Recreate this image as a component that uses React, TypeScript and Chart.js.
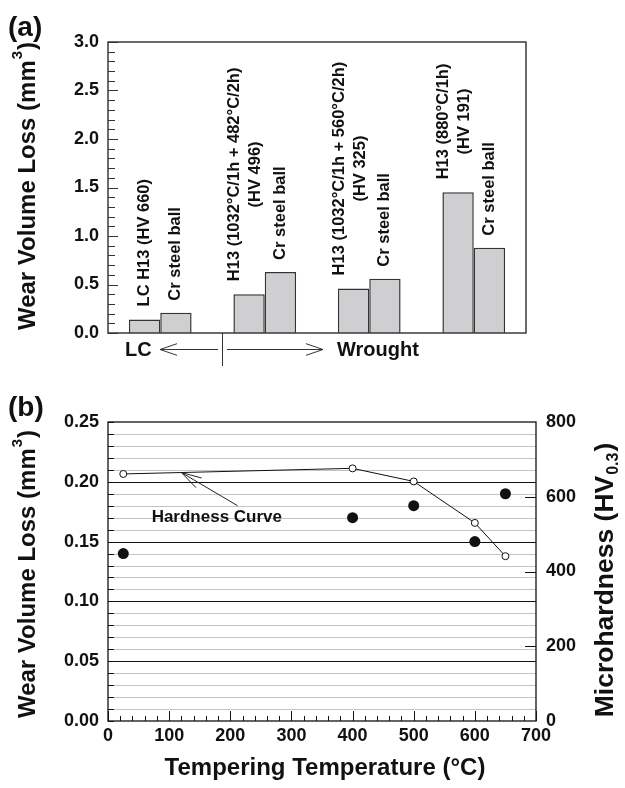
import React, { useEffect, useRef } from 'react';
import { Chart, registerables } from 'chart.js';

Chart.register(...registerables);

// ---------- Data: panel (a) ----------
const categories = ['LC H13', 'H13 482°C', 'H13 560°C', 'H13 880°C'];
const specimenLoss = [0.14, 0.4, 0.46, 1.45];
const ballLoss = [0.21, 0.63, 0.56, 0.88];
const specimenLabels = [
  ['LC H13 (HV 660)'],
  ['H13 (1032°C/1h + 482°C/2h)', '(HV 496)'],
  ['H13 (1032°C/1h + 560°C/2h)', '(HV 325)'],
  ['H13 (880°C/1h)', '(HV 191)'],
];
const ballLabel = 'Cr steel ball';
const lossMaxA = 3.0;
const lossStepA = 0.5;

// ---------- Data: panel (b) ----------
const temperatures = [25, 400, 500, 600, 650];
const wearLoss = [0.14, 0.17, 0.18, 0.15, 0.19];
const hardness = [661, 676, 641, 530, 441];
const tempMax = 700;
const tempStep = 100;
const lossMaxB = 0.25;
const lossStepB = 0.05;
const hardnessMax = 800;
const hardnessStep = 200;

const FONT = '"Liberation Sans", Arial, Helvetica, sans-serif';
const INK = '#111';

function openArrow(ctx: CanvasRenderingContext2D, tx: number, ty: number, fx: number, fy: number, len: number, spread: number) {
  const ang = Math.atan2(fy - ty, fx - tx);
  ctx.beginPath();
  ctx.moveTo(tx + len * Math.cos(ang + spread), ty + len * Math.sin(ang + spread));
  ctx.lineTo(tx, ty);
  ctx.lineTo(tx + len * Math.cos(ang - spread), ty + len * Math.sin(ang - spread));
  ctx.stroke();
}

function drawVerticalTitle(ctx: CanvasRenderingContext2D, cx: number, cy: number, main: string, script: string, tail: string, size: number, sup: boolean) {
  ctx.save();
  ctx.translate(cx, cy);
  ctx.rotate(-Math.PI / 2);
  const big = `bold ${size}px ${FONT}`;
  const small = `bold ${Math.round(size * 0.62)}px ${FONT}`;
  ctx.font = big;
  const w1 = ctx.measureText(main).width;
  const w3 = ctx.measureText(tail).width;
  ctx.font = small;
  const w2 = ctx.measureText(script).width;
  const total = w1 + w2 + w3 + 2;
  let x = -total / 2;
  ctx.fillStyle = INK;
  ctx.textBaseline = 'middle';
  ctx.textAlign = 'left';
  ctx.font = big;
  ctx.fillText(main, x, 0);
  x += w1 + 1;
  ctx.font = small;
  ctx.fillText(script, x, sup ? -size * 0.42 : size * 0.3);
  x += w2 + 1;
  ctx.font = big;
  ctx.fillText(tail, x, 0);
  ctx.restore();
}

const panelAPlugin = {
  id: 'panelA',
  afterDraw(chart: any) {
    const { ctx, chartArea: a, scales } = chart;
    const y = scales.y;
    ctx.save();
    // frame
    ctx.strokeStyle = '#3a3a3a';
    ctx.lineWidth = 1.5;
    ctx.strokeRect(a.left, a.top, a.right - a.left, a.bottom - a.top);
    // inward ticks on left axis
    ctx.lineWidth = 1;
    ctx.strokeStyle = '#333';
    for (let i = 0; i <= Math.round(lossMaxA * 10); i++) {
      const v = i / 10;
      const py = Math.round(y.getPixelForValue(v)) + 0.5;
      const len = i % 5 === 0 ? 10 : 7;
      ctx.beginPath();
      ctx.moveTo(a.left, py);
      ctx.lineTo(a.left + len, py);
      ctx.stroke();
    }
    // labels above bars
    ctx.fillStyle = INK;
    ctx.font = `bold 16.5px ${FONT}`;
    ctx.textBaseline = 'middle';
    const metaS = chart.getDatasetMeta(0);
    const metaB = chart.getDatasetMeta(1);
    const gap = 13;
    metaS.data.forEach((bar: any, i: number) => {
      const lines = specimenLabels[i];
      const w1 = ctx.measureText(lines[0]).width;
      const start = bar.y - gap;
      const centerAlong = start - w1 / 2;
      const lh = 21;
      const cx = bar.x - (lines.length > 1 ? 4 : 0);
      lines.forEach((ln: string, k: number) => {
        const off = (k - (lines.length - 1) / 2) * lh;
        ctx.save();
        ctx.translate(cx + off, centerAlong);
        ctx.rotate(-Math.PI / 2);
        ctx.textAlign = 'center';
        ctx.fillText(ln, 0, 0);
        ctx.restore();
      });
    });
    metaB.data.forEach((bar: any) => {
      ctx.save();
      ctx.translate(bar.x, bar.y - gap + 1);
      ctx.rotate(-Math.PI / 2);
      ctx.textAlign = 'left';
      ctx.fillText(ballLabel, 0, 0);
      ctx.restore();
    });
    // LC / Wrought annotation below axis
    const ay = a.bottom + 16;
    const divX = a.left + 114;
    ctx.strokeStyle = '#333';
    ctx.lineWidth = 1;
    ctx.beginPath();
    ctx.moveTo(divX + 0.5, a.bottom);
    ctx.lineTo(divX + 0.5, a.bottom + 33);
    ctx.stroke();
    ctx.beginPath();
    ctx.moveTo(a.left + 52, ay + 0.5);
    ctx.lineTo(divX - 4, ay + 0.5);
    ctx.stroke();
    openArrow(ctx, a.left + 52, ay + 0.5, divX, ay + 0.5, 18, 0.33);
    ctx.beginPath();
    ctx.moveTo(divX + 5, ay + 0.5);
    ctx.lineTo(a.left + 215, ay + 0.5);
    ctx.stroke();
    openArrow(ctx, a.left + 215, ay + 0.5, divX, ay + 0.5, 18, 0.33);
    ctx.font = `bold 20px ${FONT}`;
    ctx.textAlign = 'left';
    ctx.textBaseline = 'middle';
    ctx.fillText('LC', a.left + 17, ay + 1);
    ctx.fillText('Wrought', a.left + 229, ay + 1);
    // panel label & y title
    ctx.font = `bold 28px ${FONT}`;
    ctx.fillText('(a)', 8, 28);
    ctx.restore();
    drawVerticalTitle(ctx, 28, 186, 'Wear Volume Loss (mm', '3', ')', 24, true);
  },
};

const panelBPlugin = {
  id: 'panelB',
  beforeDatasetsDraw(chart: any) {
    const { ctx, chartArea: a, scales } = chart;
    const y = scales.y;
    ctx.save();
    const n = Math.round(lossMaxB * 100);
    for (let i = 1; i < n; i++) {
      const py = Math.round(y.getPixelForValue(i / 100)) + 0.5;
      const major = i % 5 === 0;
      ctx.strokeStyle = major ? '#111' : '#c4c4c4';
      ctx.lineWidth = major ? 1.1 : 1;
      ctx.beginPath();
      ctx.moveTo(a.left, py);
      ctx.lineTo(a.right, py);
      ctx.stroke();
    }
    ctx.restore();
  },
  afterDraw(chart: any) {
    const { ctx, chartArea: a, scales } = chart;
    const x = scales.x;
    const y = scales.y;
    const y1 = scales.y1;
    ctx.save();
    ctx.strokeStyle = '#111';
    ctx.lineWidth = 1.3;
    ctx.strokeRect(a.left, a.top, a.right - a.left, a.bottom - a.top);
    ctx.lineWidth = 1;
    // left ticks every 0.01
    const n = Math.round(lossMaxB * 100);
    for (let i = 0; i <= n; i++) {
      const py = Math.round(y.getPixelForValue(i / 100)) + 0.5;
      ctx.beginPath();
      ctx.moveTo(a.left, py);
      ctx.lineTo(a.left + 6, py);
      ctx.stroke();
    }
    // x ticks every 20, major every 100
    for (let t = 0; t <= tempMax; t += 20) {
      const px = Math.round(x.getPixelForValue(t)) + 0.5;
      const len = t % tempStep === 0 ? 10 : 5;
      ctx.beginPath();
      ctx.moveTo(px, a.bottom);
      ctx.lineTo(px, a.bottom - len);
      ctx.stroke();
    }
    // right ticks
    for (let h = hardnessStep; h < hardnessMax; h += hardnessStep) {
      const py = Math.round(y1.getPixelForValue(h)) + 0.5;
      ctx.beginPath();
      ctx.moveTo(a.right, py);
      ctx.lineTo(a.right - 11, py);
      ctx.stroke();
    }
    // Hardness curve annotation
    const tipT = 120;
    let tipH = hardness[0];
    for (let i = 0; i < temperatures.length - 1; i++) {
      if (tipT >= temperatures[i] && tipT <= temperatures[i + 1]) {
        const f = (tipT - temperatures[i]) / (temperatures[i + 1] - temperatures[i]);
        tipH = hardness[i] + f * (hardness[i + 1] - hardness[i]);
      }
    }
    const tx = x.getPixelForValue(tipT);
    const ty = y1.getPixelForValue(tipH);
    const fx = x.getPixelForValue(212);
    const fy = y.getPixelForValue(0.18);
    ctx.strokeStyle = '#222';
    ctx.lineWidth = 1;
    ctx.beginPath();
    ctx.moveTo(fx, fy);
    ctx.lineTo(tx, ty);
    ctx.stroke();
    openArrow(ctx, tx, ty, fx, fy, 21, 0.27);
    ctx.fillStyle = INK;
    ctx.font = `bold 17px ${FONT}`;
    ctx.textAlign = 'center';
    ctx.textBaseline = 'middle';
    ctx.fillText('Hardness Curve', x.getPixelForValue(178), y.getPixelForValue(0.17));
    // x title
    ctx.font = `bold 24px ${FONT}`;
    ctx.fillText('Tempering Temperature (°C)', 325, 388);
    // panel label
    ctx.textAlign = 'left';
    ctx.font = `bold 28px ${FONT}`;
    ctx.fillText('(b)', 8, 28);
    ctx.restore();
    drawVerticalTitle(ctx, 28, 194, 'Wear Volume Loss (mm', '3', ')', 24, true);
    drawVerticalTitle(ctx, 606, 200, 'Microhardness (HV', '0.3', ')', 26.5, false);
  },
};

const tickFont = { family: FONT, size: 18, weight: 'bold' as const };
const noGrid = { display: false, drawTicks: false, tickLength: 0 };

export default function App() {
  const refA = useRef<HTMLCanvasElement>(null);
  const refB = useRef<HTMLCanvasElement>(null);

  useEffect(() => {
    const chartA = new Chart(refA.current!, {
      type: 'bar',
      data: {
        labels: categories,
        datasets: [
          { data: specimenLoss, backgroundColor: '#cfcfd2', borderColor: '#333', borderWidth: 1.5, barPercentage: 1, categoryPercentage: 0.6 },
          { data: ballLoss, backgroundColor: '#cfcfd2', borderColor: '#333', borderWidth: 1.5, barPercentage: 1, categoryPercentage: 0.6 },
        ],
      },
      options: {
        animation: false,
        responsive: false,
        devicePixelRatio: 1,
        layout: { padding: { left: 0, top: 42, right: 99, bottom: 0 } },
        plugins: { legend: { display: false }, tooltip: { enabled: false } },
        scales: {
          x: {
            grid: noGrid,
            border: { display: false },
            ticks: { display: false },
            afterFit: (s: any) => { s.height = 47; },
          },
          y: {
            min: 0,
            max: lossMaxA,
            grid: noGrid,
            border: { display: false },
            ticks: { stepSize: lossStepA, padding: 9, color: INK, font: tickFont, callback: (v: any) => Number(v).toFixed(1) },
            afterFit: (s: any) => { s.width = 108; },
          },
        },
      },
      plugins: [panelAPlugin],
    } as any);

    const chartB = new Chart(refB.current!, {
      type: 'scatter',
      data: {
        datasets: [
          {
            data: temperatures.map((t, i) => ({ x: t, y: hardness[i] })),
            yAxisID: 'y1',
            showLine: true,
            borderColor: '#111',
            borderWidth: 1,
            pointRadius: 3.5,
            pointBackgroundColor: '#fff',
            pointBorderColor: '#111',
            pointBorderWidth: 1,
          },
          {
            data: temperatures.map((t, i) => ({ x: t, y: wearLoss[i] })),
            yAxisID: 'y',
            showLine: false,
            pointRadius: 5.5,
            pointBackgroundColor: '#111',
            pointBorderColor: '#111',
            pointBorderWidth: 0,
          },
        ],
      },
      options: {
        animation: false,
        responsive: false,
        devicePixelRatio: 1,
        layout: { padding: { left: 0, top: 42, right: 0, bottom: 0 } },
        plugins: { legend: { display: false }, tooltip: { enabled: false } },
        scales: {
          x: {
            type: 'linear',
            min: 0,
            max: tempMax,
            grid: noGrid,
            border: { display: false },
            ticks: { stepSize: tempStep, padding: 4, color: INK, font: tickFont },
            afterFit: (s: any) => { s.height = 67; },
          },
          y: {
            position: 'left',
            min: 0,
            max: lossMaxB,
            grid: noGrid,
            border: { display: false },
            ticks: { stepSize: lossStepB, padding: 9, color: INK, font: tickFont, callback: (v: any) => Number(v).toFixed(2) },
            afterFit: (s: any) => { s.width = 108; },
          },
          y1: {
            position: 'right',
            min: 0,
            max: hardnessMax,
            grid: noGrid,
            border: { display: false },
            ticks: { stepSize: hardnessStep, padding: 10, color: INK, font: tickFont },
            afterFit: (s: any) => { s.width = 89; },
          },
        },
      },
      plugins: [panelBPlugin],
    } as any);

    return () => {
      chartA.destroy();
      chartB.destroy();
    };
  }, []);

  return (
    <div style={{ position: 'absolute', left: 0, top: 0, width: 625, height: 788, background: '#fff' }}>
      <canvas ref={refA} width={625} height={380} style={{ position: 'absolute', left: 0, top: 0, width: 625, height: 380 }} />
      <canvas ref={refB} width={625} height={408} style={{ position: 'absolute', left: 0, top: 380, width: 625, height: 408 }} />
    </div>
  );
}
